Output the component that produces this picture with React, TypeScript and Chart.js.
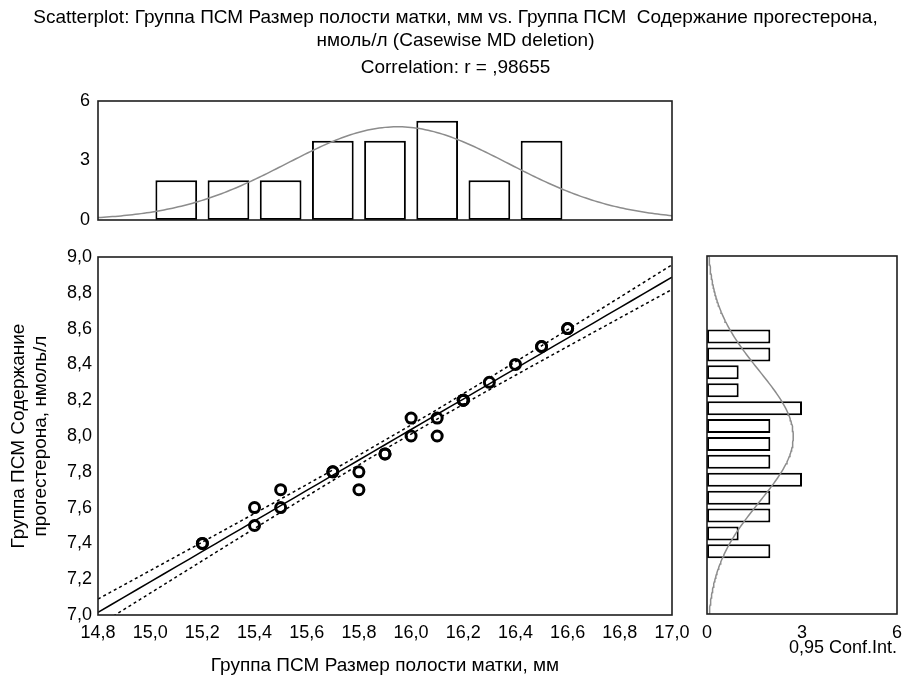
import React, { useEffect, useRef } from 'react';
import { Chart, registerables } from 'chart.js';

Chart.register(...registerables);

// ---------- text ----------
const titleLines = [
  'Scatterplot: Группа ПСМ Размер полости матки, мм vs. Группа ПСМ  Содержание прогестерона,',
  'нмоль/л (Casewise MD deletion)',
];
const subtitleText = 'Correlation: r = ,98655';
const xAxisTitle = 'Группа ПСМ Размер полости матки, мм';
const yAxisTitle = ['Группа ПСМ Содержание', 'прогестерона, нмоль/л'];
const confLabel = '0,95 Conf.Int.';

// ---------- data ----------
const xVals = [15.2, 15.2, 15.4, 15.4, 15.5, 15.5, 15.7, 15.7, 15.8, 15.8, 15.9, 15.9, 16.0, 16.0, 16.1, 16.1, 16.2, 16.2, 16.2, 16.3, 16.4, 16.5, 16.5, 16.6, 16.6];
const yVals = [7.4, 7.4, 7.6, 7.5, 7.7, 7.6, 7.8, 7.8, 7.8, 7.7, 7.9, 7.9, 8.1, 8.0, 8.1, 8.0, 8.2, 8.2, 8.2, 8.3, 8.4, 8.5, 8.5, 8.6, 8.6];

const topBinCenters = [15.1, 15.3, 15.5, 15.7, 15.9, 16.1, 16.3, 16.5];
const topCounts = [2, 2, 2, 4, 4, 5, 2, 4];
const topBinWidth = 0.2;

const rightBinCenters = [8.55, 8.45, 8.35, 8.25, 8.15, 8.05, 7.95, 7.85, 7.75, 7.65, 7.55, 7.45, 7.35];
const rightCounts = [2, 2, 1, 1, 3, 2, 2, 2, 3, 2, 2, 1, 2];
const rightBinWidth = 0.1;

const xTicks = [14.8, 15.0, 15.2, 15.4, 15.6, 15.8, 16.0, 16.2, 16.4, 16.6, 16.8, 17.0];
const yTicks = [7.0, 7.2, 7.4, 7.6, 7.8, 8.0, 8.2, 8.4, 8.6, 8.8, 9.0];
const histTicks = [0, 3, 6];

const X_MIN = 14.8, X_MAX = 17.0, Y_MIN = 7.0, Y_MAX = 9.0;
const T_975_23 = 2.069;

// ---------- fitted curves (derived from data) ----------
function mean(a: number[]) { return a.reduce((s, v) => s + v, 0) / a.length; }
function sd(a: number[]) { const m = mean(a); return Math.sqrt(a.reduce((s, v) => s + (v - m) * (v - m), 0) / (a.length - 1)); }

function normalCurve(vals: number[], binW: number, lo: number, hi: number, steps: number) {
  const m = mean(vals), s = sd(vals), n = vals.length;
  const out: { v: number; d: number }[] = [];
  for (let i = 0; i <= steps; i++) {
    const v = lo + (hi - lo) * i / steps;
    const d = n * binW / (s * Math.sqrt(2 * Math.PI)) * Math.exp(-((v - m) ** 2) / (2 * s * s));
    out.push({ v, d });
  }
  return out;
}

function regression() {
  const n = xVals.length, mx = mean(xVals), my = mean(yVals);
  let sxx = 0, sxy = 0;
  for (let i = 0; i < n; i++) { sxx += (xVals[i] - mx) ** 2; sxy += (xVals[i] - mx) * (yVals[i] - my); }
  const b = sxy / sxx, a = my - b * mx;
  let sse = 0;
  for (let i = 0; i < n; i++) sse += (yVals[i] - (a + b * xVals[i])) ** 2;
  const s = Math.sqrt(sse / (n - 2));
  const line: { x: number; y: number }[] = [];
  const up: { x: number; y: number }[] = [];
  const lo: { x: number; y: number }[] = [];
  const steps = 44;
  for (let i = 0; i <= steps; i++) {
    const x = X_MIN + (X_MAX - X_MIN) * i / steps;
    const yh = a + b * x;
    const h = T_975_23 * s * Math.sqrt(1 / n + (x - mx) ** 2 / sxx);
    line.push({ x, y: yh });
    up.push({ x, y: yh + h });
    lo.push({ x, y: yh - h });
  }
  return { line, up, lo };
}

const FONT = 'Liberation Sans, Arial, Helvetica, sans-serif';
const fmt1 = (v: number) => Number(v).toFixed(1).replace('.', ',');

const boxPlugin = {
  id: 'box',
  afterDatasetsDraw(chart: any) {
    const { ctx, chartArea: a } = chart;
    ctx.save();
    ctx.strokeStyle = '#1e1e1e';
    ctx.lineWidth = 1.6;
    ctx.strokeRect(a.left, a.top, a.right - a.left, a.bottom - a.top);
    ctx.restore();
  },
};

const W = 911, H = 678;
const TOP_BOX = { left: 98, right: 672, top: 101, bottom: 220 };
const MAIN_BOX = { left: 98, right: 672, top: 257, bottom: 615 };
const RIGHT_BOX = { left: 707, right: 897, top: 256, bottom: 614 };

export default function App() {
  const topRef = useRef<HTMLCanvasElement | null>(null);
  const mainRef = useRef<HTMLCanvasElement | null>(null);
  const rightRef = useRef<HTMLCanvasElement | null>(null);

  useEffect(() => {
    Chart.defaults.font.family = FONT;
    Chart.defaults.color = '#000';

    const tickFont = { family: FONT, size: 18 };
    const titleFont = { family: FONT, size: 19, weight: 'normal' as const };

    // ---- top histogram (with chart title) ----
    const topCurve = normalCurve(xVals, topBinWidth, X_MIN, X_MAX, 200);
    const topChart = new Chart(topRef.current!, {
      type: 'bar',
      data: {
        datasets: [
          {
            type: 'bar',
            data: topBinCenters.map((c, i) => ({ x: c, y: topCounts[i] })),
            backgroundColor: '#ffffff',
            borderColor: '#000000',
            borderWidth: 2,
            borderSkipped: false,
            barPercentage: 0.8,
            categoryPercentage: 1,
            order: 2,
          } as any,
          {
            type: 'line',
            data: topCurve.map((p) => ({ x: p.v, y: p.d })),
            borderColor: '#8c8c8c',
            borderWidth: 1.5,
            pointRadius: 0,
            tension: 0,
            order: 1,
          } as any,
        ],
      },
      options: {
        responsive: false,
        animation: false,
        events: [],
        layout: { padding: { left: 0, top: 0, right: 0, bottom: H - TOP_BOX.bottom } },
        plugins: {
          legend: { display: false },
          tooltip: { enabled: false },
          title: {
            display: true,
            text: titleLines,
            color: '#000',
            font: { ...titleFont, lineHeight: 23 / 19 },
            padding: { top: 6.5, bottom: 0 },
          },
          subtitle: {
            display: true,
            text: subtitleText,
            color: '#000',
            font: { ...titleFont, lineHeight: 23 / 19 },
            padding: { top: 3.5, bottom: 22 },
          },
        },
        scales: {
          x: { type: 'linear', min: X_MIN, max: X_MAX, offset: false, display: false },
          y: {
            type: 'linear',
            min: 0,
            max: 6,
            afterBuildTicks: (s: any) => { s.ticks = histTicks.map((v) => ({ value: v })); },
            afterFit: (s: any) => { s.width = TOP_BOX.left; },
            grid: { display: false, drawTicks: false },
            border: { display: false },
            ticks: { font: tickFont, color: '#000', padding: 8 },
          },
          yRightSpace: {
            type: 'linear',
            position: 'right',
            min: 0,
            max: 6,
            afterFit: (s: any) => { s.width = W - TOP_BOX.right; },
            grid: { display: false, drawTicks: false },
            border: { display: false },
            ticks: { display: false },
          },
        },
      } as any,
      plugins: [boxPlugin],
    });

    // ---- scatter ----
    const reg = regression();
    const mainChart = new Chart(mainRef.current!, {
      type: 'scatter',
      data: {
        datasets: [
          {
            data: xVals.map((x, i) => ({ x, y: yVals[i] })),
            pointRadius: 5,
            pointBorderWidth: 3,
            borderColor: '#000',
            backgroundColor: 'rgba(255,255,255,0)',
            showLine: false,
            order: 1,
          },
          {
            data: reg.line,
            showLine: true,
            borderColor: '#000',
            borderWidth: 1.5,
            pointRadius: 0,
            order: 2,
          },
          {
            data: reg.up,
            showLine: true,
            borderColor: '#000',
            borderWidth: 1.5,
            borderDash: [3, 3],
            pointRadius: 0,
            order: 2,
          },
          {
            data: reg.lo,
            showLine: true,
            borderColor: '#000',
            borderWidth: 1.5,
            borderDash: [3, 3],
            pointRadius: 0,
            order: 2,
          },
        ],
      },
      options: {
        responsive: false,
        animation: false,
        events: [],
        layout: { padding: { left: 0, top: MAIN_BOX.top, right: W - MAIN_BOX.right, bottom: 0 } },
        plugins: { legend: { display: false }, tooltip: { enabled: false } },
        scales: {
          x: {
            type: 'linear',
            min: X_MIN,
            max: X_MAX,
            afterBuildTicks: (s: any) => { s.ticks = xTicks.map((v) => ({ value: v })); },
            afterFit: (s: any) => { s.height = H - MAIN_BOX.bottom; },
            grid: { display: false, drawTicks: false },
            border: { display: false },
            ticks: { font: tickFont, color: '#000', padding: 7, maxRotation: 0, autoSkip: false, callback: (v: any) => fmt1(v) },
            title: { display: true, text: xAxisTitle, color: '#000', font: titleFont, padding: { top: 0, bottom: 1 } },
          },
          y: {
            type: 'linear',
            min: Y_MIN,
            max: Y_MAX,
            afterBuildTicks: (s: any) => { s.ticks = yTicks.map((v) => ({ value: v })); },
            afterFit: (s: any) => { s.width = MAIN_BOX.left; },
            grid: { display: false, drawTicks: false },
            border: { display: false },
            ticks: { font: tickFont, color: '#000', padding: 6, autoSkip: false, callback: (v: any) => fmt1(v) },
            title: { display: true, text: yAxisTitle, color: '#000', font: { ...titleFont, lineHeight: 22 / 19 }, padding: { top: 7.5, bottom: 0 } },
          },
        },
      } as any,
      plugins: [boxPlugin],
    });

    // ---- right histogram ----
    const rightCurve = normalCurve(yVals, rightBinWidth, Y_MIN, Y_MAX, 200);
    const rightChart = new Chart(rightRef.current!, {
      type: 'bar',
      data: {
        datasets: [
          {
            type: 'bar',
            indexAxis: 'y',
            data: rightBinCenters.map((c, i) => ({ x: rightCounts[i], y: c })),
            backgroundColor: '#ffffff',
            borderColor: '#000000',
            borderWidth: 2,
            borderSkipped: false,
            barPercentage: 0.78,
            categoryPercentage: 1,
            order: 2,
          } as any,
          {
            type: 'line',
            indexAxis: 'y',
            data: rightCurve.map((p) => ({ x: p.d, y: p.v })),
            borderColor: '#8c8c8c',
            borderWidth: 1.5,
            pointRadius: 0,
            tension: 0,
            order: 1,
          } as any,
        ],
      },
      options: {
        indexAxis: 'y',
        responsive: false,
        animation: false,
        events: [],
        layout: { padding: { left: RIGHT_BOX.left, top: RIGHT_BOX.top, right: W - RIGHT_BOX.right, bottom: 0 } },
        plugins: { legend: { display: false }, tooltip: { enabled: false } },
        scales: {
          y: { type: 'linear', min: Y_MIN, max: Y_MAX, offset: false, display: false },
          x: {
            type: 'linear',
            min: 0,
            max: 6,
            afterBuildTicks: (s: any) => { s.ticks = histTicks.map((v) => ({ value: v })); },
            afterFit: (s: any) => { s.height = H - RIGHT_BOX.bottom; },
            grid: { display: false, drawTicks: false },
            border: { display: false },
            ticks: { font: tickFont, color: '#000', padding: 8, maxRotation: 0 },
            title: { display: true, text: confLabel, align: 'end', color: '#000', font: { family: FONT, size: 18, weight: 'normal' }, padding: { top: 0, bottom: 19 } },
          },
        },
      } as any,
      plugins: [boxPlugin],
    });

    return () => {
      topChart.destroy();
      mainChart.destroy();
      rightChart.destroy();
    };
  }, []);

  const cs: React.CSSProperties = { position: 'absolute', left: 0, top: 0, width: W, height: H };
  return (
    <div style={{ position: 'fixed', left: 0, top: 0, width: W, height: H, background: '#fff' }}>
      <canvas ref={mainRef} width={W} height={H} style={cs} />
      <canvas ref={rightRef} width={W} height={H} style={cs} />
      <canvas ref={topRef} width={W} height={H} style={cs} />
    </div>
  );
}
